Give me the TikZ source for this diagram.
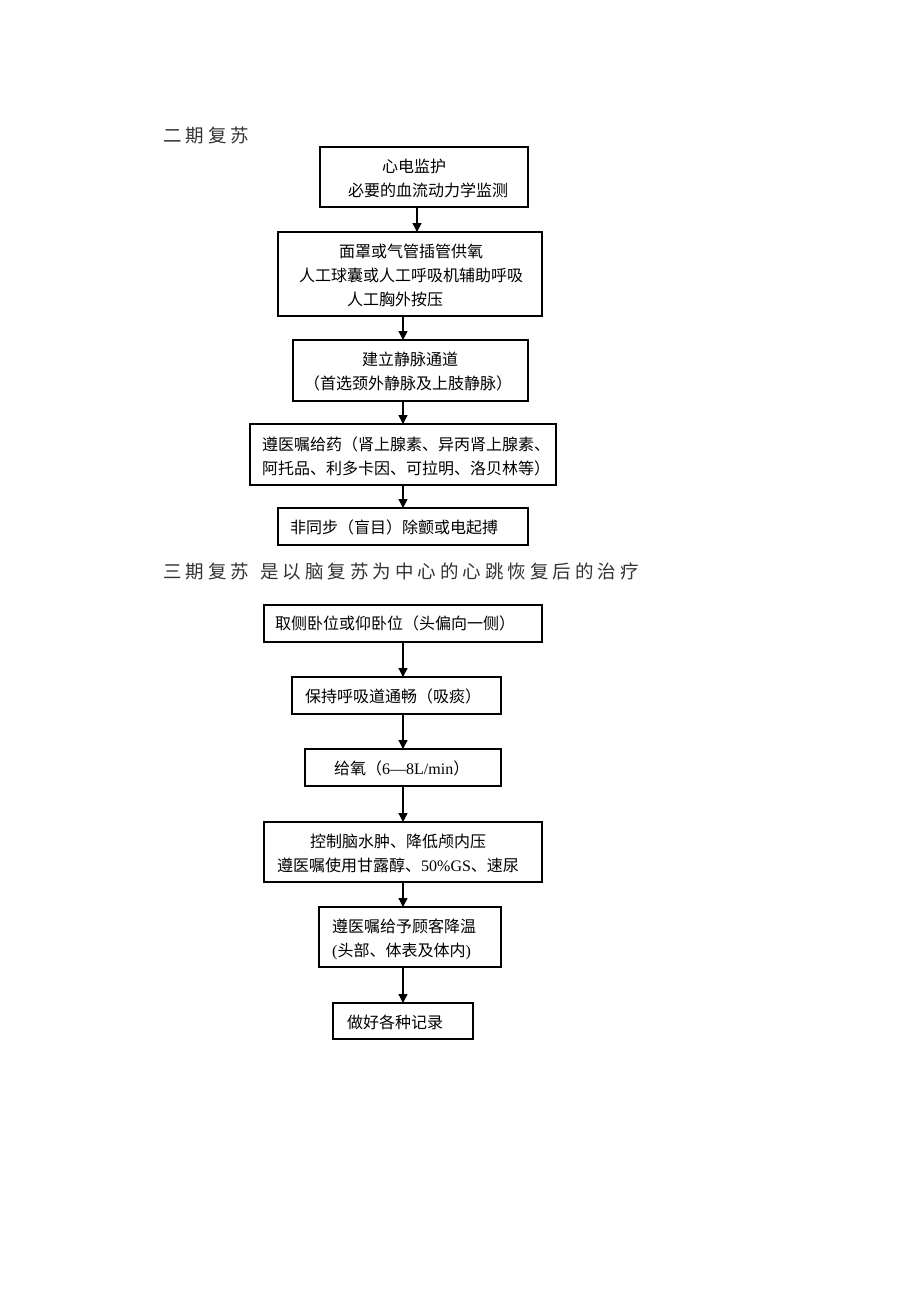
\documentclass[tikz,border=0pt]{standalone}
\usepackage{fontspec}
\setmainfont{Liberation Serif}
\newfontfamily\cjk{Noto Sans CJK SC}
\usetikzlibrary{arrows.meta}
\def\lsp#1{\lsploop#1\relax}
\def\lsploop#1{\ifx\relax#1\else#1\kern4pt\expandafter\lsploop\fi}
\tikzset{
  box/.style={draw=black, line width=1.2pt, inner sep=0pt, outer sep=0pt, fill=none},
  txt/.style={anchor=base west, inner sep=0pt, font=\cjk\fontsize{16}{16}\selectfont},
  head/.style={anchor=base west, inner sep=0pt, text=black!80, font=\cjk\fontsize{18.5}{18.5}\selectfont},
  arr/.style={line width=1.3pt, -{Triangle[width=9pt,length=9pt]}}
}
\begin{document}
\begin{tikzpicture}[x=1pt,y=-1pt]
\useasboundingbox (0,0) rectangle (920,1302);
\fill[white] (0,0) rectangle (920,1302);
% headings
\node[head] (h1) at (163,142.5) {\lsp{二期复苏}};
\node[head] (h2a) at (163,578.5) {\lsp{三期复苏}};
\node[head] (h2b) at (260,578.5) {\lsp{是以脑复苏为中心的心跳恢复后的治疗}};
% boxes
\node[box, minimum width=208, minimum height=60] (b1) at (424,177) {};
\node[box, minimum width=264, minimum height=84] (b2) at (410,274) {};
\node[box, minimum width=235, minimum height=61] (b3) at (410.5,370.5) {};
\node[box, minimum width=306, minimum height=61] (b4) at (403,454.5) {};
\node[box, minimum width=250, minimum height=37] (b5) at (403,526.5) {};
\node[box, minimum width=278, minimum height=37] (b6) at (403,623.5) {};
\node[box, minimum width=209, minimum height=37] (b7) at (396.5,695.5) {};
\node[box, minimum width=196, minimum height=37] (b8) at (403,767.5) {};
\node[box, minimum width=278, minimum height=60] (b9) at (403,852) {};
\node[box, minimum width=182, minimum height=60] (b10) at (410,937) {};
\node[box, minimum width=140, minimum height=36] (b11) at (403,1021) {};
% texts
\node[txt] (t1a) at (382,172) {心电监护};
\node[txt] (t1b) at (348,196) {必要的血流动力学监测};
\node[txt] (t2a) at (339,257) {面罩或气管插管供氧};
\node[txt] (t2b) at (299,281) {人工球囊或人工呼吸机辅助呼吸};
\node[txt] (t2c) at (347,305) {人工胸外按压};
\node[txt] (t3a) at (362,365) {建立静脉通道};
\node[txt] (t3b) at (304,389) {（首选颈外静脉及上肢静脉）};
\node[txt] (t4a) at (262,450) {遵医嘱给药（肾上腺素、异丙肾上腺素、};
\node[txt] (t4b) at (262,474) {阿托品、利多卡因、可拉明、洛贝林等）};
\node[txt] (t5) at (290,533) {非同步（盲目）除颤或电起搏};
\node[txt] (t6) at (275,629) {取侧卧位或仰卧位（头偏向一侧）};
\node[txt] (t7) at (305,702) {保持呼吸道通畅（吸痰）};
\node[txt] (t8) at (334,774) {给氧（{\rmfamily 6—8L/min}）};
\node[txt] (t9a) at (310,847) {控制脑水肿、降低颅内压};
\node[txt] (t9b) at (277,871) {遵医嘱使用甘露醇、{\rmfamily 50\%GS}、速尿};
\node[txt] (t10a) at (332,932) {遵医嘱给予顾客降温};
\node[txt] (t10b) at (332,956) {{\rmfamily (}头部、体表及体内{\rmfamily )}};
\node[txt] (t11) at (347,1028) {做好各种记录};
% arrows
\coordinate (ax1) at (417,0);
\coordinate (ax) at (403,0);
\draw[arr] (ax1 |- b1.south) -- (ax1 |- b2.north);
\draw[arr] (ax |- b2.south) -- (ax |- b3.north);
\draw[arr] (ax |- b3.south) -- (ax |- b4.north);
\draw[arr] (ax |- b4.south) -- (ax |- b5.north);
\draw[arr] (ax |- b6.south) -- (ax |- b7.north);
\draw[arr] (ax |- b7.south) -- (ax |- b8.north);
\draw[arr] (ax |- b8.south) -- (ax |- b9.north);
\draw[arr] (ax |- b9.south) -- (ax |- b10.north);
\draw[arr] (ax |- b10.south) -- (ax |- b11.north);
\end{tikzpicture}
\end{document}
